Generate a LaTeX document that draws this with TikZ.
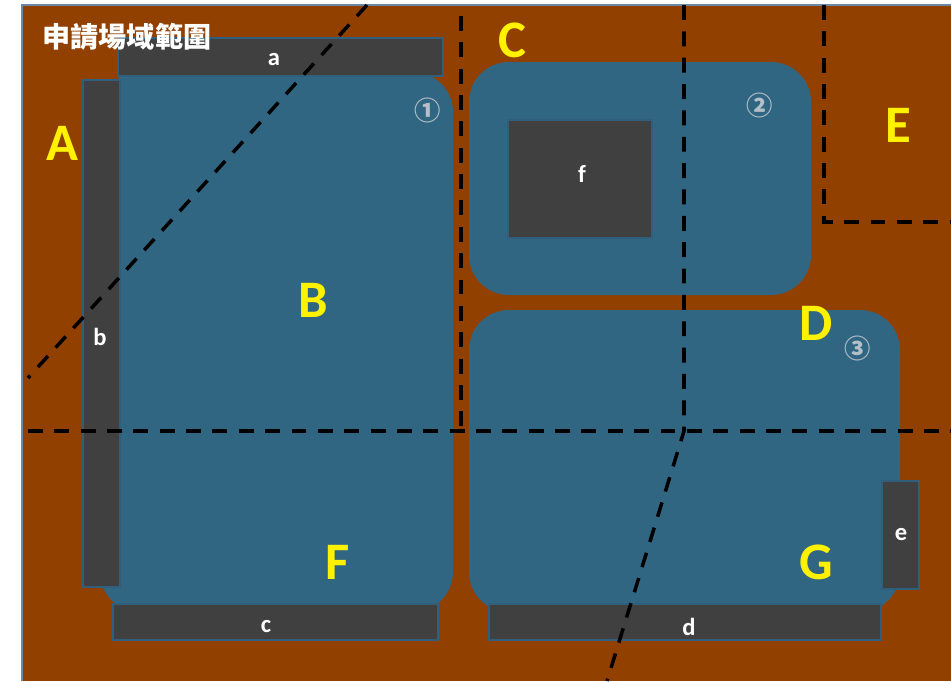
\documentclass[tikz,border=0pt]{standalone}
\usepackage{fontspec}
\setmainfont{Carlito}
\newfontfamily\cjk{Noto Sans CJK TC}
\definecolor{bgbrown}{HTML}{924000}
\definecolor{zoneblue}{HTML}{316683}
\definecolor{bardark}{HTML}{404040}
\definecolor{baredge}{HTML}{2F5F7C}
\definecolor{frameedge}{HTML}{6A88A4}
\definecolor{circgrey}{HTML}{B4C0C8}
\tikzset{
  zone/.style={fill=zoneblue, rounded corners=0.8cm},
  barbox/.style={fill=bardark, draw=baredge, line width=0.8pt},
  divider/.style={draw=black, line width=2pt, dash pattern=on 8.5pt off 6.5pt},
  biglabel/.style={text=yellow, font=\fontsize{30}{32}\selectfont\bfseries, inner sep=0pt},
  smalllabel/.style={text=white, font=\fontsize{14}{16}\selectfont\bfseries, inner sep=0pt},
  circlabel/.style={text=circgrey, font=\cjk\fontsize{15}{17}\selectfont\bfseries, inner sep=0pt}
}
\begin{document}
\begin{tikzpicture}[x=0.02cm,y=-0.02cm]
\useasboundingbox (0,0) rectangle (951,681);
\fill[white] (0,0) rectangle (951,681);
% background
\fill[bgbrown] (22,5) rectangle (951,681);
\draw[frameedge, line width=0.9pt] (22,681) -- (22,5) -- (951,5);
% blue zones
\fill[zone] (100,72) rectangle (453,612);
\fill[zone] (469,62) rectangle (811,295);
\fill[zone] (469,310) rectangle (900,612);
% bars
\fill[barbox] (118,38) rectangle (443,76);
\fill[barbox] (83,80) rectangle (120,587);
\fill[barbox] (113,604) rectangle (438,640);
\fill[barbox] (489,604) rectangle (881,640);
\fill[barbox] (882,481) rectangle (919,589);
\fill[barbox] (508,120) rectangle (652,238);
% dividers
\coordinate (d1s) at (367,5);
\coordinate (d1e) at (28,378);
\coordinate (v1s) at (461,16);
\coordinate (v1e) at (461,431);
\coordinate (hs) at (28,431);
\coordinate (he) at (951,431);
\coordinate (v2s) at (684,5);
\coordinate (v2m) at (684,431);
\coordinate (v2e) at (607,681);
\coordinate (es) at (824,5);
\coordinate (ec) at (824,222);
\coordinate (ee) at (951,222);
\draw[divider] (d1s) -- (d1e);
\draw[divider] (v1s) -- (v1e);
\draw[divider] (hs) -- (he);
\draw[divider] (v2s) -- (v2m) -- (v2e);
\draw[divider] (es) -- (ec) -- (ee);
% title
\node[text=white, font=\cjk\fontsize{16}{18}\selectfont\bfseries, inner sep=0pt] (title) at (127,37) {申請場域範圍};
% big labels
\node[biglabel] (A) at (62,143) {A};
\node[biglabel] (B) at (313,300) {B};
\node[biglabel] (C) at (512,40) {C};
\node[biglabel] (D) at (816,323) {D};
\node[biglabel] (E) at (898,125) {E};
\node[biglabel] (F) at (338,562) {F};
\node[biglabel] (G) at (816,562) {G};
% small labels
\node[smalllabel] (la) at (274,60) {a};
\node[smalllabel] (lb) at (100,337) {b};
\node[smalllabel] (lc) at (266,627) {c};
\node[smalllabel] (ld) at (689,627) {d};
\node[smalllabel] (le) at (901,535) {e};
\node[smalllabel] (lf) at (582,174) {f};
% circled numbers
\node[circlabel] (n1) at (428,110) {①};
\node[circlabel] (n2) at (760,105) {②};
\node[circlabel] (n3) at (858,348) {③};
\end{tikzpicture}
\end{document}
